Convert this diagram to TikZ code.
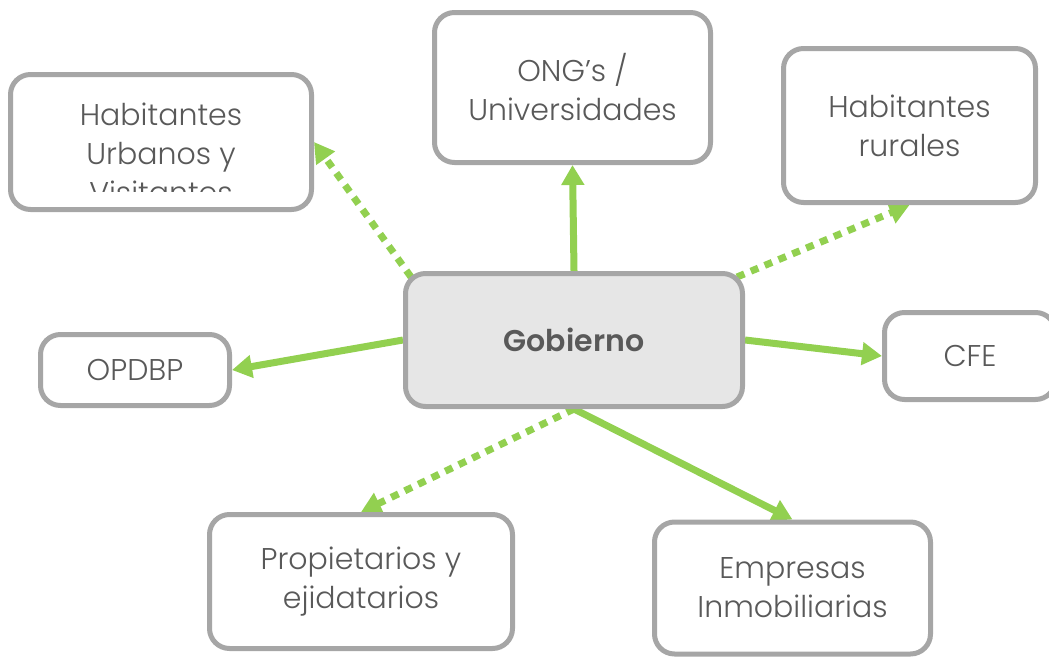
\documentclass[tikz,border=0pt]{standalone}
\usepackage{fontspec}
\setmainfont{Poppins Light}[BoldFont={Poppins SemiBold}]
\usetikzlibrary{arrows.meta}
\usetikzlibrary{backgrounds}
\definecolor{boxline}{RGB}{166,166,166}
\definecolor{boxtext}{RGB}{89,89,89}
\definecolor{govfill}{RGB}{230,230,230}
\definecolor{linkgreen}{RGB}{146,208,80}

\tikzset{
    actor/.style 2 args={draw=boxline, line width=5pt, rounded corners=20pt, fill=white,
        minimum width=#1, minimum height=#2, inner sep=0pt, align=center, text=boxtext,
        font=\fontsize{30}{39}\selectfont},
    lbl/.style={inner sep=0pt, align=center, text=boxtext, font=\fontsize{30}{39}\selectfont},
    link/.style={draw=linkgreen, line width=7pt, -{Triangle[length=20pt,width=22pt]}},
    linkdots/.style={dash pattern=on 8pt off 7pt}
}

\begin{document}
\begin{tikzpicture}[x=1pt,y=-1pt]
    \clip (0,0) rectangle (1049,656);

    % draw nodes
    \node[actor={337pt}{133pt}, fill=govfill, font=\fontsize{30}{39}\selectfont\bfseries] (gov) at (574,340) {Gobierno};
    \node[actor={276pt}{150pt}] (ong) at (572.5,87.5) {ONG’s /\\Universidades};
    \node[actor={252pt}{154pt}] (rur) at (909.5,125.5) {Habitantes\\rurales};
    \node[actor={301pt}{135pt}] (urb) at (161,142) {};
    \node[actor={189pt}{71pt}] (opd) at (135,370) {OPDBP};
    \node[actor={171pt}{87pt}] (cfe) at (970,356) {CFE};
    \node[actor={303pt}{134pt}] (prop) at (361,581.5) {Propietarios y\\ejidatarios};
    \node[actor={276pt}{132pt}] (emp) at (792.5,588) {Empresas\\Inmobiliarias};

    % text of urb runs out of its frame
    \begin{scope}
        \clip (14,78) rectangle (308,191);
        \node[lbl] (urbtext) at (161,153) {Habitantes\\Urbanos y\\Visitantes};
    \end{scope}

    % draw arrows
    \begin{scope}[on background layer]
        \draw[link] (gov.north) -- (ong.south);
        \draw[link] (gov.west) -- (opd.east);
        \draw[link] (gov.east) -- (cfe.west);
        \draw[link] (gov.south) -- (emp.north);
        \draw[link, linkdots] ([shift={(8pt,-6pt)}]gov.north west) -- (urb.east);
        \draw[link, linkdots] ([shift={(-8pt,-6pt)}]gov.north east) -- (rur.south);
        \draw[link, linkdots] (gov.south) -- (prop.north);
    \end{scope}
\end{tikzpicture}
\end{document}
